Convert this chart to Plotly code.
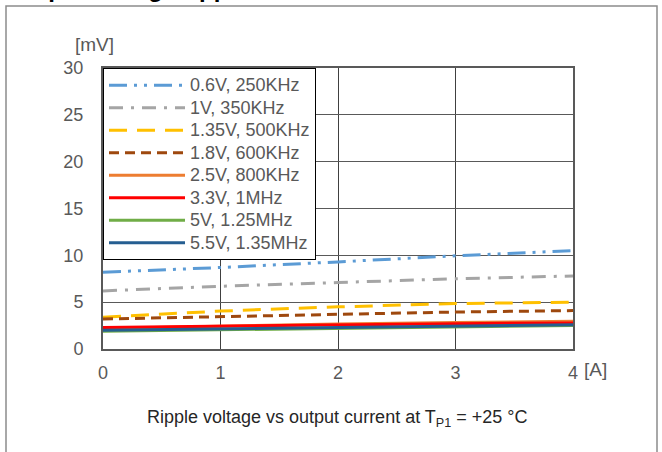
import plotly.graph_objects as go

current = [0, 1, 2, 3, 4]
names = ["0.6V, 250KHz", "1V, 350KHz", "1.35V, 500KHz", "1.8V, 600KHz",
         "2.5V, 800KHz", "3.3V, 1MHz", "5V, 1.25MHz", "5.5V, 1.35MHz"]
v_06 = [8.2, 8.7, 9.3, 9.95, 10.5]
v_1 = [6.2, 6.7, 7.1, 7.5, 7.8]
v_135 = [3.4, 4.05, 4.5, 4.85, 5.0]
v_18 = [3.2, 3.45, 3.75, 3.95, 4.1]
v_25 = [2.2, 2.45, 2.67, 2.82, 2.95]
v_33 = [2.3, 2.45, 2.6, 2.7, 2.78]
v_5 = [1.9, 2.05, 2.25, 2.4, 2.5]
v_55 = [2.0, 2.15, 2.35, 2.5, 2.6]
series = [v_06, v_1, v_135, v_18, v_25, v_33, v_5, v_55]
colors = ["#5B9BD5", "#A5A5A5", "#FFC000", "#9E480E",
          "#ED7D31", "#FF0000", "#70AD47", "#255E91"]
dashes = ["18px,7px,3px,7px,3px,7px", "14px,8px,3px,8px", "18px,10px", "10px,6px",
          "solid", "solid", "solid", "solid"]

fig = go.Figure()
for n, v, c, d in zip(names, series, colors, dashes):
    fig.add_trace(go.Scatter(x=current, y=v, name='<span style="font-size:18px">' + n + '</span>',
                             mode="lines", line=dict(color=c, width=3, dash=d)))

W, H = 662, 452
L, R, T, B = 103, 89, 68, 103
pw, ph = W - L - R, H - T - B

def px(x):
    return (x - L) / pw

def py(y):
    return (H - B - y) / ph

fig.update_layout(
    width=W, height=H,
    margin=dict(l=L, r=R, t=T, b=B, autoexpand=False),
    paper_bgcolor="white", plot_bgcolor="white",
    font=dict(family="Liberation Sans, Arial", color="#595959"),
    showlegend=True,
    legend=dict(x=0, y=1, xanchor="left", yanchor="top",
                bgcolor="white", bordercolor="black", borderwidth=1,
                font=dict(size=15, color="#595959"),
                tracegroupgap=0, itemwidth=76),
    xaxis=dict(range=[0, 4], dtick=1, showgrid=True, gridcolor="#404040", gridwidth=1,
               showline=True, linecolor="#595959", linewidth=2, mirror=True,
               ticks="", tickfont=dict(size=18, color="#595959"), zeroline=False,
               ticklabelstandoff=6),
    yaxis=dict(range=[0, 30], dtick=5, showgrid=True, gridcolor="#595959", gridwidth=1,
               showline=True, linecolor="#595959", linewidth=2, mirror=True,
               ticks="", tickfont=dict(size=18, color="#595959"), zeroline=False,
               ticklabelstandoff=14),
    shapes=[dict(type="rect", xref="paper", yref="paper",
                 x0=px(6), x1=px(657), y0=py(470), y1=py(6),
                 line=dict(color="#8c8c8c", width=1.5), layer="below")],
    annotations=[
        dict(text="<b>Output voltage ripple</b>", xref="paper", yref="paper",
             x=px(5), y=py(4), xanchor="left", yanchor="bottom", showarrow=False,
             font=dict(size=24, color="black")),
        dict(text="[mV]", xref="paper", yref="paper", x=px(94), y=py(45),
             xanchor="center", yanchor="middle",
             showarrow=False, font=dict(size=19, color="#595959")),
        dict(text="[A]", xref="paper", yref="paper", x=px(595), y=py(369),
             xanchor="center", yanchor="middle",
             showarrow=False, font=dict(size=19, color="#595959")),
        dict(text="Ripple voltage vs output current at T<sub>P1</sub> = +25 °C",
             xref="paper", yref="paper", x=px(337), y=py(418),
             xanchor="center", yanchor="middle",
             showarrow=False, font=dict(size=18, color="#262626")),
    ],
)

fig.write_html("out.html", config={"displayModeBar": False},
               post_script="document.body.style.margin='0';document.body.style.overflow='hidden';")
